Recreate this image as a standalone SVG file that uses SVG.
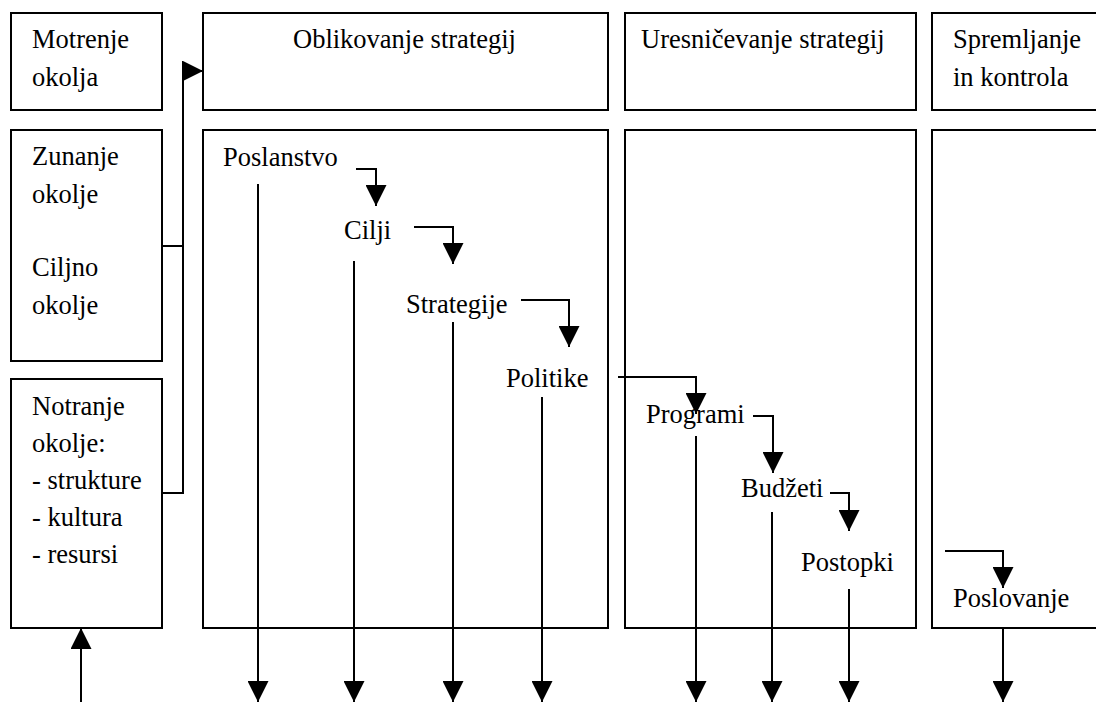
<svg xmlns="http://www.w3.org/2000/svg" width="1096" height="702" viewBox="0 0 1096 702">
<defs>
<style>
.box{fill:#fff;stroke:#000;stroke-width:2}
text{font-family:'Liberation Serif','Times New Roman',serif;font-size:26.5px;fill:#000}
.c{fill:none;stroke:#000;stroke-width:2}
</style>
<marker id="ah" markerUnits="userSpaceOnUse" markerWidth="21" markerHeight="21" viewBox="0 0 20 20" refX="20" refY="10" orient="auto">
<path d="M0,0 L20,10 L0,20 z" fill="#000"/>
</marker>
</defs>
<rect width="1096" height="702" fill="#fff"/>
<g font-family="Liberation Serif, serif" font-size="26.5">
<g id="hdr-motrenje"><rect class="box" x="11" y="13" width="151" height="97"/><text x="32" y="48">Motrenje</text><text x="32" y="86">okolja</text></g>
<g id="hdr-oblikovanje"><rect class="box" x="203" y="13" width="405" height="97"/><text x="293" y="48">Oblikovanje strategij</text></g>
<g id="hdr-uresnicevanje"><rect class="box" x="625" y="13" width="291" height="97"/><text x="641" y="48">Uresničevanje strategij</text></g>
<g id="hdr-spremljanje"><rect class="box" x="932" y="13" width="180" height="97"/><text x="953" y="48">Spremljanje</text><text x="953" y="86">in kontrola</text></g>
<g id="zunanje"><rect class="box" x="11" y="130" width="151" height="231"/><text x="32" y="165">Zunanje</text><text x="32" y="203">okolje</text><text x="32" y="276">Ciljno</text><text x="32" y="314">okolje</text></g>
<g id="notranje"><rect class="box" x="11" y="379" width="151" height="249"/><text x="32" y="415">Notranje</text><text x="32" y="452">okolje:</text><text x="32" y="489">- strukture</text><text x="32" y="526">- kultura</text><text x="32" y="563">- resursi</text></g>
<g id="col-oblikovanje"><rect class="box" x="203" y="130" width="405" height="498"/></g>
<g id="col-uresnicevanje"><rect class="box" x="625" y="130" width="291" height="498"/></g>
<g id="col-spremljanje"><rect class="box" x="932" y="130" width="180" height="498"/></g>
<g id="n-poslanstvo"><text x="223" y="166">Poslanstvo</text></g>
<g id="n-cilji"><text x="344" y="239">Cilji</text></g>
<g id="n-strategije"><text x="406" y="313">Strategije</text></g>
<g id="n-politike"><text x="506" y="387">Politike</text></g>
<g id="n-programi"><text x="646" y="423">Programi</text></g>
<g id="n-budzeti"><text x="741" y="497">Budžeti</text></g>
<g id="n-postopki"><text x="801" y="571">Postopki</text></g>
<g id="n-poslovanje"><text x="953" y="607">Poslovanje</text></g>
</g>
<g id="connectors">
<path class="c" d="M162,246 H183"/>
<path class="c" d="M162,493 H183 V71 H203" marker-end="url(#ah)"/>
<path class="c" d="M81,702 V628" marker-end="url(#ah)"/>
<path class="c" d="M356,169 H376 V206" marker-end="url(#ah)"/>
<path class="c" d="M414,227 H453 V264" marker-end="url(#ah)"/>
<path class="c" d="M521,300 H569 V347" marker-end="url(#ah)"/>
<path class="c" d="M618,377 H696 V414" marker-end="url(#ah)"/>
<path class="c" d="M753,416 H773 V473" marker-end="url(#ah)"/>
<path class="c" d="M830,493 H849 V531" marker-end="url(#ah)"/>
<path class="c" d="M945,551 H1003 V588" marker-end="url(#ah)"/>
<path class="c" d="M258,184 V702" marker-end="url(#ah)"/>
<path class="c" d="M354,261 V702" marker-end="url(#ah)"/>
<path class="c" d="M453,322 V702" marker-end="url(#ah)"/>
<path class="c" d="M542,397 V702" marker-end="url(#ah)"/>
<path class="c" d="M696,436 V702" marker-end="url(#ah)"/>
<path class="c" d="M772,512 V702" marker-end="url(#ah)"/>
<path class="c" d="M849,589 V702" marker-end="url(#ah)"/>
<path class="c" d="M1003,628 V702" marker-end="url(#ah)"/>
</g>
</svg>
